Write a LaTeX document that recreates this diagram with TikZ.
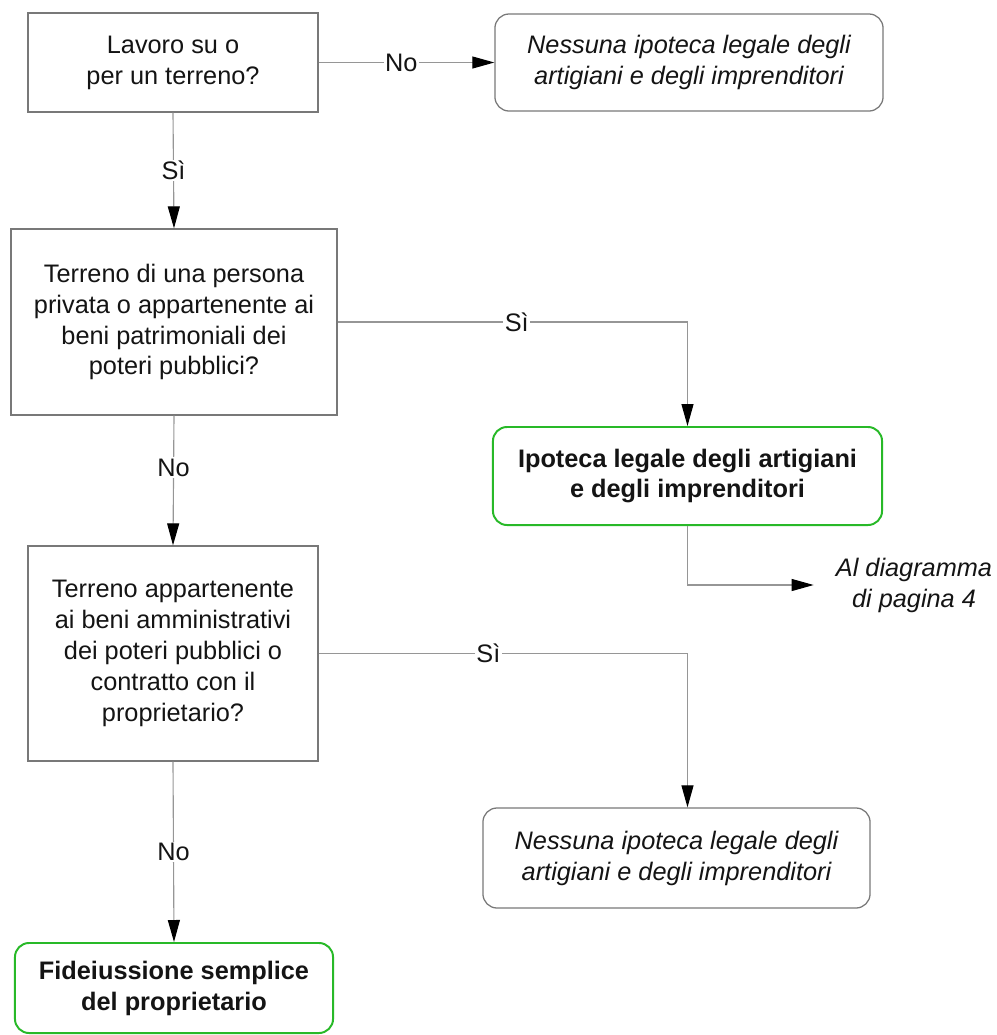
\documentclass[tikz,border=0pt]{standalone}
\usepackage{fontspec}
\setmainfont{Liberation Sans}
\usetikzlibrary{arrows.meta,positioning,calc}
\definecolor{InkBlack}{RGB}{20,20,20}
\definecolor{FrameGrey}{RGB}{120,120,120}
\definecolor{WireGrey}{RGB}{150,150,150}
\definecolor{ResultGreen}{RGB}{40,185,40}
\tikzset{
  >={Triangle[length=5.5mm,width=3mm,color=black,fill=black]},
  basefont/.style={font=\fontsize{18}{22}\selectfont,text=InkBlack,align=center},
  question/.style={basefont,draw=FrameGrey,line width=.9pt,fill=white,inner sep=2pt},
  nolien/.style={basefont,font=\fontsize{18}{22}\selectfont\itshape,draw=FrameGrey,line width=.9pt,rounded corners=10pt,fill=white,inner sep=2pt},
  result/.style={basefont,font=\fontsize{18}{22}\selectfont\bfseries,draw=ResultGreen,line width=1.4pt,rounded corners=10pt,fill=white,inner sep=2pt},
  gotonote/.style={basefont,font=\fontsize{18}{22}\selectfont\itshape,inner xsep=.55cm},
  answer/.style={basefont,fill=white,inner sep=1pt},
  wire/.style={->,draw=WireGrey,line width=.8pt}
}
\begin{document}
\begin{tikzpicture}[x=0.025cm,y=-0.025cm]
  \useasboundingbox (0,0) rectangle (996,1035);
  % questions
  \node[question,minimum width=7.25cm,minimum height=2.475cm] (work) at (173,62.5) {Lavoro su o\\per un terreno?};
  \node[question,minimum width=8.15cm,minimum height=4.65cm] (private) at (174,322) {Terreno di una persona\\privata o appartenente ai\\beni patrimoniali dei\\poteri pubblici?};
  \node[question,minimum width=7.25cm,minimum height=5.375cm] (admin) at (173,653.5) {Terreno appartenente\\ai beni amministrativi\\dei poteri pubblici o\\contratto con il\\proprietario?};
  % outcomes
  \node[nolien,minimum width=9.7cm,minimum height=2.425cm] (nolientop) at (689,62.5) {Nessuna ipoteca legale degli\\artigiani e degli imprenditori};
  \node[result,minimum width=9.725cm,minimum height=2.45cm] (lien) at (687.5,476) {Ipoteca legale degli artigiani\\e degli imprenditori};
  \node[nolien,minimum width=9.675cm,minimum height=2.5cm] (nolienlow) at (676.5,858) {Nessuna ipoteca legale degli\\artigiani e degli imprenditori};
  \node[result,minimum width=7.95cm,minimum height=2.25cm] (surety) at (174,988) {Fideiussione semplice\\del proprietario};
  \node[gotonote] (page4) at (914,585) {Al diagramma\\di pagina 4};
  % connectors
  \draw[wire] (work.east) -- node[answer,pos=.47]{No} (nolientop.west);
  \draw[wire] (work.south) -- node[answer]{Sì} (private.north);
  \draw[wire] (private.east) -| node[answer,pos=.256]{Sì} (lien.north);
  \draw[wire] (private.south) -- node[answer,pos=.4]{No} (admin.north);
  \draw[wire] (lien.south) |- (page4.west);
  \draw[wire] (admin.east) -| node[answer,pos=.23]{Sì} (nolienlow.north -| lien.south);
  \draw[wire] (admin.south) -- node[answer]{No} (surety.north);
\end{tikzpicture}
\end{document}
